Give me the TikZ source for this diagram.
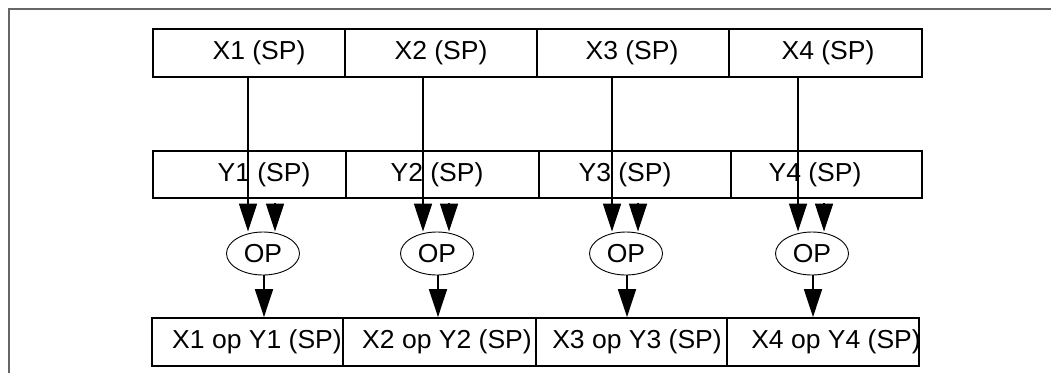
\documentclass[tikz,border=0pt]{standalone}
\usepackage{fontspec}
\setmainfont[FakeStretch=1.02]{Liberation Sans}
\usetikzlibrary{arrows.meta,shapes.geometric}
\begin{document}
\begin{tikzpicture}[x=1pt,y=-1pt,
  cell/.style={draw,line width=1.8pt,minimum height=48pt,inner sep=0pt,anchor=center},
  lbl/.style={font=\fontsize{26}{30}\selectfont,inner sep=0pt},
  opnode/.style={ellipse,draw,line width=0.9pt,minimum width=73pt,minimum height=43pt,inner sep=0pt,font=\fontsize{26}{30}\selectfont},
  arr/.style={line width=1.6pt,-{Triangle[length=28pt,width=18pt]}}]
\useasboundingbox (0,0) rectangle (1051,373);
\draw[black!60,line width=2pt] (8.5,373) -- (8.5,8.5) -- (1051,8.5);
% X row
\node[cell,minimum width=192pt] (X1) at (249,53) {};
\node[cell,minimum width=192pt] (X2) at (441,53) {};
\node[cell,minimum width=192pt] (X3) at (633,53) {};
\node[cell,minimum width=193pt] (X4) at (825.5,53) {};
% Y row
\node[cell,minimum width=193pt,minimum height=47pt] (Y1) at (249.5,174.5) {};
\node[cell,minimum width=193pt,minimum height=47pt] (Y2) at (442.5,174.5) {};
\node[cell,minimum width=192pt,minimum height=47pt] (Y3) at (635,174.5) {};
\node[cell,minimum width=191pt,minimum height=47pt] (Y4) at (826.5,174.5) {};
% result row
\node[cell,minimum width=191pt] (R1) at (247.5,342) {};
\node[cell,minimum width=193pt] (R2) at (439.5,342) {};
\node[cell,minimum width=191pt] (R3) at (631.5,342) {};
\node[cell,minimum width=192pt] (R4) at (823,342) {};
% labels
\node[lbl] (tX1) at (259,53) {X1 (SP)};
\node[lbl] (tX2) at (441,53) {X2 (SP)};
\node[lbl] (tX3) at (632,53) {X3 (SP)};
\node[lbl] (tX4) at (828,53) {X4 (SP)};
\node[lbl] (tY1) at (264,174.5) {Y1 (SP)};
\node[lbl] (tY2) at (437,174.5) {Y2 (SP)};
\node[lbl] (tY3) at (625,174.5) {Y3 (SP)};
\node[lbl] (tY4) at (815,174.5) {Y4 (SP)};
\node[lbl] (tR1) at (257,342) {X1 op Y1 (SP)};
\node[lbl] (tR2) at (447,342) {X2 op Y2 (SP)};
\node[lbl] (tR3) at (637,342) {X3 op Y3 (SP)};
\node[lbl] (tR4) at (836,342) {X4 op Y4 (SP)};
% OP ellipses
\node[opnode] (OP1) at (263,253.5) {OP};
\node[opnode] (OP2) at (437,253.5) {OP};
\node[opnode] (OP3) at (626,253.5) {OP};
\node[opnode] (OP4) at (812,253.5) {OP};
% connector columns
\coordinate (a1) at (248,0); \coordinate (b1) at (275,0);
\coordinate (a2) at (423,0); \coordinate (b2) at (449,0);
\coordinate (a3) at (612,0); \coordinate (b3) at (638,0);
\coordinate (a4) at (798,0); \coordinate (b4) at (824,0);
\foreach \i in {1,2,3,4}{
  \draw[arr] (X\i.south -| a\i) -- (OP\i.north -| a\i);
  \draw[arr] ([yshift=-4pt]Y\i.south -| b\i) -- (OP\i.north -| b\i);
  \draw[arr] ([xshift=1pt]OP\i.south) -- ([xshift=1pt]OP\i.south |- R\i.north);
}
\end{tikzpicture}
\end{document}
